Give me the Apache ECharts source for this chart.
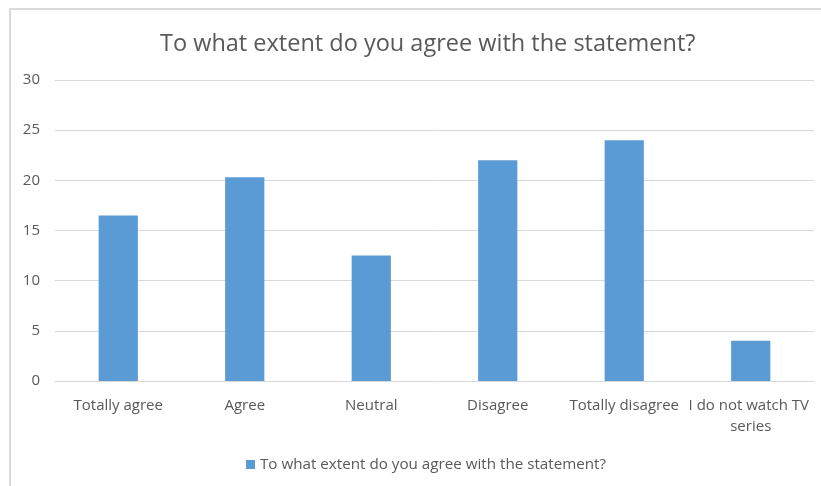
<!DOCTYPE html>
<html>
<head>
<meta charset="utf-8">
<script src="https://cdn.jsdelivr.net/npm/echarts@6/dist/echarts.min.js"></script>
<style>
  html, body { margin: 0; padding: 0; background: #fff; }
  #main { width: 821px; height: 486px; }
</style>
</head>
<body>
<div id="main"></div>
<script>
// data
var categories = ['Totally agree', 'Agree', 'Neutral', 'Disagree', 'Totally disagree', 'I do not watch TV series'];
var values = [16.5, 20.3, 12.5, 22, 24, 4];
var seriesName = 'To what extent do you agree with the statement?';

var font = "'Open Sans', sans-serif";

var chart = echarts.init(document.getElementById('main'));
var option = {
  backgroundColor: '#fff',
  animation: false,
  title: {
    text: seriesName,
    left: 155,
    top: 27,
    textStyle: { color: '#595959', fontSize: 23.5, fontWeight: 'normal', fontFamily: font }
  },
  legend: {
    top: 452,
    left: 241,
    icon: 'rect',
    itemWidth: 9,
    itemHeight: 9,
    itemGap: 5,
    textStyle: { color: '#595959', fontSize: 15.2, fontFamily: font },
    data: [seriesName]
  },
  grid: { left: 55, right: 7, top: 80, bottom: 105, containLabel: false },
  xAxis: {
    type: 'category',
    data: categories,
    axisLine: { lineStyle: { color: '#d9d9d9' } },
    axisTick: { show: false },
    axisLabel: {
      color: '#595959', fontSize: 15, fontFamily: font, margin: 14,
      interval: 0, width: 126, overflow: 'break', lineHeight: 21
    }
  },
  yAxis: {
    type: 'value',
    min: 0,
    max: 30,
    interval: 5,
    axisLine: { show: false },
    axisTick: { show: false },
    axisLabel: { color: '#595959', fontSize: 15, fontFamily: font, margin: 15 },
    splitLine: { lineStyle: { color: '#d9d9d9' } }
  },
  graphic: [{
    type: 'rect',
    shape: { x: 10, y: 9, width: 830, height: 500 },
    style: { fill: 'none', stroke: '#d9d9d9', lineWidth: 2 },
    silent: true
  }],
  series: [{
    name: seriesName,
    type: 'bar',
    data: values,
    barWidth: '31%',
    itemStyle: { color: '#5b9bd5' }
  }]
};
chart.setOption(option);
</script>
</body>
</html>
